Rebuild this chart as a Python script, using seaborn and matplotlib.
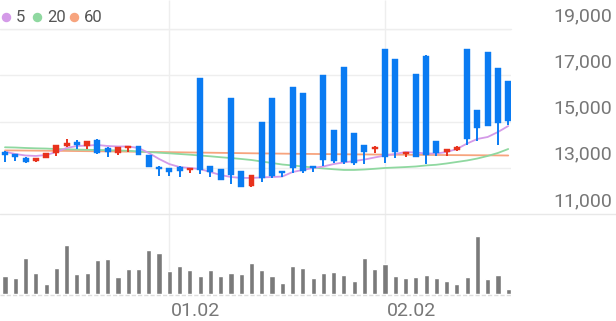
import numpy as np
import pandas as pd
import matplotlib
matplotlib.use("Agg")
import matplotlib.pyplot as plt
import seaborn as sns
from matplotlib.lines import Line2D

# ---------------- data ----------------
opens = [13695, 13582, 13410, 13305, 13435, 13625, 13954, 14114, 13940, 14200,
         13867, 13651, 13867, 13940, 13552, 13046, 12977, 13046, 12903, 16868,
         13076, 12946, 16003, 12873, 12211, 14992, 16003, 12860, 16505, 16220,
         13076, 16998, 14633, 17344, 14490, 13984, 13824, 18122, 17690, 13595,
         17041, 17846, 14157, 13695, 13768, 18122, 15498, 18005, 17301, 16764]
closes = [13540, 13465, 13260, 13435, 13625, 13997, 14083, 13997, 14157, 13625,
          13695, 13885, 13954, 13540, 13046, 12933, 12804, 12873, 12990, 12903,
          12830, 12471, 12687, 12181, 12687, 12544, 12644, 12760, 13003, 12873,
          13003, 13336, 13305, 13262, 13193, 13695, 13911, 13452, 13695, 13669,
          13478, 13552, 13625, 13798, 13911, 14244, 14732, 14806, 14948, 15022]
highs = [13710, 13600, 13480, 13440, 13630, 14000, 14230, 14200, 14170, 14245,
         13880, 13900, 13960, 13950, 13560, 13060, 12990, 13060, 13000, 16880,
         13090, 12955, 16010, 12880, 12700, 15000, 16010, 12870, 16510, 16230,
         13090, 17010, 14640, 17350, 14500, 13990, 13920, 18130, 17700, 13680,
         17050, 17860, 14170, 13810, 13920, 18130, 15510, 18010, 17310, 16770]
lows = [13260, 13290, 13190, 13240, 13430, 13510, 13885, 13810, 13800, 13610,
        13480, 13540, 13695, 13530, 13030, 12644, 12644, 12588, 12760, 12730,
        12613, 12460, 12298, 12170, 12155, 12397, 12544, 12613, 12786, 12760,
        12830, 13076, 13193, 13163, 13120, 13163, 13625, 13193, 13409, 13452,
        13450, 13163, 13522, 13510, 13740, 13984, 14157, 14790, 13984, 14849]
volumes = [18, 16, 36, 21, 10, 26, 49, 20, 21, 34,
           35, 17, 25, 25, 44, 41, 23, 28, 24, 18,
           24, 18, 21, 20, 31, 24, 18, 11, 28, 26,
           16, 21, 22, 19, 13, 36, 25, 30, 18, 16,
           17, 19, 16, 13, 10, 17, 58, 15, 19, 5]
ma5 = [13695, 13595, 13530, 13510, 13550, 13680, 13855, 13940, 13960, 13985,
       13940, 13920, 13920, 13855, 13640, 13380, 13160, 13030, 12990, 12945,
       12815, 12685, 12600, 12560, 12560, 12580, 12600, 12620, 12815, 12905,
       12990, 13055, 13160, 13230, 13290, 13355, 13445, 13530, 13595, 13680,
       13660, 13615, 13615, 13680, 13810, 14050, 14245, 14330, 14545, 14805]
ma20 = [13885, 13875, 13855, 13840, 13830, 13810, 13800, 13785, 13775, 13770,
        13760, 13745, 13735, 13705, 13680, 13650, 13625, 13595, 13565, 13530,
        13495, 13455, 13420, 13380, 13335, 13270, 13205, 13140, 13100, 13055,
        13010, 12970, 12935, 12905, 12905, 12925, 12955, 12990, 13010, 13030,
        13055, 13100, 13130, 13185, 13250, 13315, 13400, 13510, 13640, 13810]
ma60 = [13750, 13748, 13744, 13740, 13736, 13731, 13727, 13722, 13717, 13712,
        13706, 13701, 13696, 13690, 13684, 13679, 13673, 13667, 13661, 13655,
        13650, 13644, 13638, 13632, 13626, 13620, 13615, 13610, 13605, 13600,
        13596, 13592, 13588, 13584, 13580, 13576, 13572, 13568, 13565, 13562,
        13558, 13555, 13552, 13549, 13546, 13543, 13540, 13537, 13534, 13530]
price_ticks = [11000, 13000, 15000, 17000, 19000]
date_labels = ["01.02", "02.02"]
date_index = [16, 37]
ma_names = ["5", "20", "60"]

# ---------------- style ----------------
sns.set_theme(style="white")
plt.rcParams['font.family'] = ['Roboto', 'DejaVu Sans']

UP = "#e8321c"
DOWN = "#0a7bf2"
MA_COLORS = ["#d49ae8", "#8fd8a0", "#f7a47e"]
GRID = "#eeeeee"
TXT = "#777777"

W, H = 616, 321
fig = plt.figure(figsize=(W / 100, H / 100), dpi=100)
fig.patch.set_facecolor("white")


def fx(px):
    return px / W


def fy(py):
    return 1 - py / H


PLOT_R = 511
XMIN, XMAX = -0.487, 49.27
Y_TOP, Y_BOT = 29, 214          # pixel rows of 19,000 and 11,000

# background axis for the vertical date grid lines
ax_bg = fig.add_axes([0, fy(294), fx(PLOT_R), 294 / H], zorder=0)
ax_bg.set_xlim(XMIN, XMAX)
ax_bg.set_ylim(0, 1)
ax_bg.axis("off")
ax_bg.vlines(date_index, 0, 1, color=GRID, lw=1.0)

# price axis
ax = fig.add_axes([0, fy(Y_BOT), fx(PLOT_R), (Y_BOT - Y_TOP) / H], zorder=2)
ax.patch.set_alpha(0)
ax.set_xlim(XMIN, XMAX)
ax.set_ylim(price_ticks[0], price_ticks[-1])
ax.axis("off")
for t in price_ticks[1:]:
    ax.axhline(t, color=GRID, lw=1.0, zorder=0)

idx = np.arange(len(closes))
df = pd.DataFrame({"i": idx, "ma5": ma5, "ma20": ma20, "ma60": ma60})
for col, c in zip(["ma60", "ma20", "ma5"], [MA_COLORS[2], MA_COLORS[1], MA_COLORS[0]]):
    sns.lineplot(data=df, x="i", y=col, ax=ax, color=c, lw=1.3, zorder=2)
ax.set_xlim(XMIN, XMAX)
ax.set_ylim(price_ticks[0], price_ticks[-1])
ax.axis("off")

min_body = 25
for i in idx:
    o, c, h, l = opens[i], closes[i], highs[i], lows[i]
    col = UP if c >= o else DOWN
    ax.vlines(i, l, h, color=col, lw=1.4, zorder=3)
    bot = min(o, c)
    ht = max(abs(c - o), min_body)
    ax.bar(i, ht, bottom=bot, width=0.58, color=col, edgecolor=col, lw=0.3, zorder=4)

# volume axis
axv = fig.add_axes([0, fy(294), fx(PLOT_R), 70 / H], zorder=2)
axv.patch.set_alpha(0)
vdf = pd.DataFrame({"i": idx, "v": volumes})
sns.barplot(data=vdf, x="i", y="v", ax=axv, color="#7a7a7a", saturation=1,
            width=0.5, native_scale=True)
axv.set_xlim(XMIN, XMAX)
axv.set_ylim(0, 70)
axv.axis("off")

# horizontal separators
fig.add_artist(Line2D([0, 1], [fy(Y_BOT), fy(Y_BOT)], color="#e8e8e8", lw=1.0))
fig.add_artist(Line2D([0, fx(PLOT_R)], [fy(Y_TOP), fy(Y_TOP)], color=GRID, lw=1.0))
fig.add_artist(Line2D([0, fx(PLOT_R)], [fy(294.5), fy(294.5)], color="#dddddd",
                      lw=1.0, ls=(0, (3, 1.5))))

# right price labels
for t in price_ticks:
    py = Y_TOP + (price_ticks[-1] - t) / (price_ticks[-1] - price_ticks[0]) * (Y_BOT - Y_TOP)
    fig.text(fx(612), fy(py - 8), f"{t:,}", ha="right", va="baseline",
             fontsize=14, color=TXT)

# date labels
for lab, i in zip(date_labels, date_index):
    px = (i - XMIN) / (XMAX - XMIN) * PLOT_R
    fig.text(fx(px + 2), fy(316.5), lab, ha="left", va="baseline",
             fontsize=14, color=TXT)

# legend
dot_x = [5.7, 37.3, 74]
txt_x = [16, 47, 84]
for name, c, dx, tx in zip(ma_names, MA_COLORS, dot_x, txt_x):
    fig.add_artist(Line2D([fx(dx)], [fy(16.7)], marker="o", markersize=5.8,
                          color=c, lw=0))
    fig.text(fx(tx), fy(22), name, ha="left", va="baseline", fontsize=12,
             color="#555555")

fig.savefig("out.png", dpi=100, facecolor="white")
